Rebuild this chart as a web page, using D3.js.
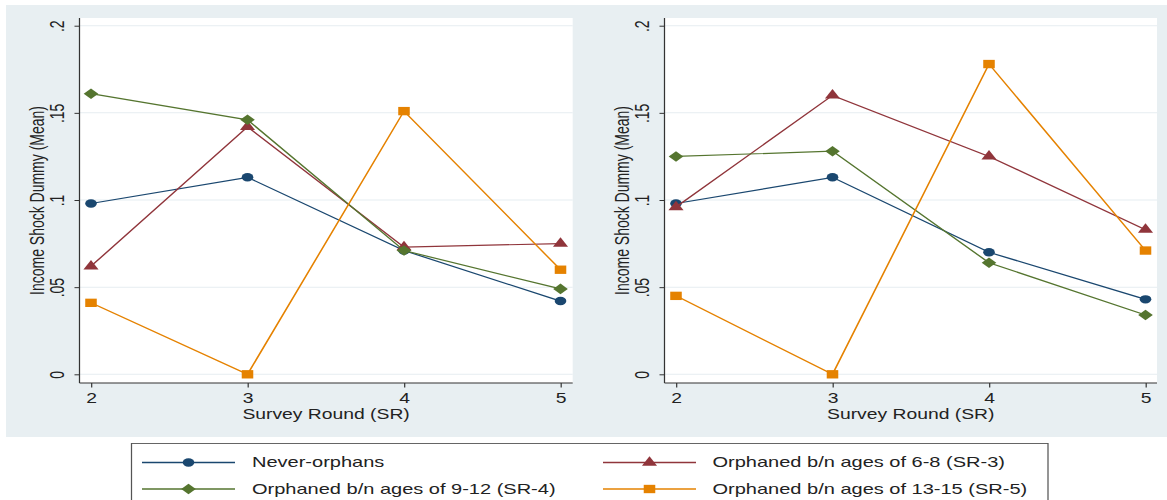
<!DOCTYPE html>
<html>
<head>
<meta charset="utf-8">
<script src="https://cdn.jsdelivr.net/npm/d3@7"></script>
<style>
    body { margin: 0; background: #fff; }
    text { font-family: "Liberation Sans", Arial, sans-serif; fill: #222; }
</style>
</head>
<body>
<div class="chart"></div>
<script>

// survey rounds on the x axis
const rounds = [2, 3, 4, 5];

// y ticks and their Stata style labels
const yTicks = [0, 0.05, 0.1, 0.15, 0.2];
const yTickLabels = ["0", ".05", ".1", ".15", ".2"];

const seriesNames = [
    "Never-orphans",
    "Orphaned b/n ages of 6-8 (SR-3)",
    "Orphaned b/n ages of 9-12 (SR-4)",
    "Orphaned b/n ages of 13-15 (SR-5)"
];

// left panel means
const leftNever   = [0.098, 0.113, 0.071, 0.042];
const leftAge68   = [0.062, 0.142, 0.073, 0.075];
const leftAge912  = [0.161, 0.146, 0.071, 0.049];
const leftAge1315 = [0.041, 0.000, 0.151, 0.060];

// right panel means
const rightNever   = [0.098, 0.113, 0.070, 0.043];
const rightAge68   = [0.096, 0.160, 0.125, 0.083];
const rightAge912  = [0.125, 0.128, 0.064, 0.034];
const rightAge1315 = [0.045, 0.000, 0.178, 0.071];

const colors = ["#1a476f", "#90353b", "#55752f", "#e58200"];
const symbols = [
    {type: d3.symbolCircle, size: 56, rotate: 0},
    {type: d3.symbolTriangle, size: 52, rotate: 0},
    {type: d3.symbolSquare, size: 56, rotate: 45},
    {type: d3.symbolSquare, size: 70, rotate: 0}
];

// the original picture is stretched sideways, so draw in a narrower frame and scale it
const SX = 1.38;
const sx = v => v / SX;

const svg = d3.select(".chart").append("svg")
    .attr("width", 1167)
    .attr("height", 500);

const root = svg.append("g")
    .attr("transform", `scale(${SX},1)`);

// grey graph region
root.append("rect")
    .attr("x", sx(6))
    .attr("y", 5)
    .attr("width", sx(1161))
    .attr("height", 432)
    .attr("fill", "#e8eff2");

const panels = [
    {left: 79.5, right: 572.7, x2: 91, x5: 560.5,
        series: [leftNever, leftAge68, leftAge912, leftAge1315]},
    {left: 664.5, right: 1157, x2: 676, x5: 1145.5,
        series: [rightNever, rightAge68, rightAge912, rightAge1315]}
];

const plotTop = 18, plotBottom = 383;

panels.forEach(drawPanel);
drawLegend();

function marker(sel, i) {
    sel.append("path")
        .attr("d", d3.symbol().type(symbols[i].type).size(symbols[i].size))
        .attr("fill", colors[i])
        .attr("transform", `rotate(${symbols[i].rotate})`);
}

function drawPanel(p) {
    const x = d3.scaleLinear().domain([2, 5]).range([sx(p.x2), sx(p.x5)]);
    const y = d3.scaleLinear().domain([0, 0.2]).range([374.3, 25.7]);

    const g = root.append("g");

    // white plot region
    g.append("rect")
        .attr("x", sx(p.left))
        .attr("y", plotTop)
        .attr("width", sx(p.right - p.left))
        .attr("height", plotBottom - plotTop)
        .attr("fill", "#fff");

    // grid lines
    g.append("g")
        .selectAll("line")
        .data(yTicks)
        .join("line")
        .attr("x1", sx(p.left))
        .attr("x2", sx(p.right))
        .attr("y1", d => y(d))
        .attr("y2", d => y(d))
        .attr("stroke", "#e6edf1")
        .attr("stroke-width", 1);

    // y axis with rotated labels
    const yAxis = g.append("g")
        .attr("transform", `translate(${sx(p.left)},0)`)
        .call(d3.axisLeft(y).tickValues(yTicks).tickFormat((d, i) => yTickLabels[i]).tickSize(sx(5)));
    yAxis.select(".domain").remove();
    yAxis.selectAll("line").attr("stroke", "#333");
    yAxis.selectAll("text")
        .attr("transform", "rotate(-90)")
        .attr("x", 0)
        .attr("y", -sx(16))
        .attr("dy", 0)
        .attr("text-anchor", "middle")
        .style("font-size", "14px");

    // x axis
    const xAxis = g.append("g")
        .attr("transform", `translate(0,${plotBottom})`)
        .call(d3.axisBottom(x).tickValues(rounds).tickFormat(d3.format("d")).tickSize(4.5));
    xAxis.select(".domain").remove();
    xAxis.selectAll("line").attr("stroke", "#333").attr("stroke-width", sx(1.2));
    xAxis.selectAll("text")
        .attr("y", 20.5)
        .attr("dy", 0)
        .style("font-size", "14px");
    yAxis.attr("font-family", null).attr("font-size", null);
    xAxis.attr("font-family", null).attr("font-size", null);

    // axis lines
    g.append("line")
        .attr("x1", sx(p.left)).attr("x2", sx(p.left))
        .attr("y1", plotTop).attr("y2", plotBottom)
        .attr("stroke", "#333").attr("stroke-width", 0.9);
    g.append("line")
        .attr("x1", sx(p.left)).attr("x2", sx(p.right))
        .attr("y1", plotBottom).attr("y2", plotBottom)
        .attr("stroke", "#333").attr("stroke-width", 1.1);

    // axis titles
    g.append("text")
        .attr("x", sx((p.left + p.right) / 2))
        .attr("y", 419.5)
        .attr("text-anchor", "middle")
        .style("font-size", "14px")
        .text("Survey Round (SR)");

    g.append("text")
        .attr("transform", `translate(${sx(p.left - 36)},${(plotTop + plotBottom) / 2}) rotate(-90)`)
        .attr("text-anchor", "middle")
        .style("font-size", "14px")
        .text("Income Shock Dummy (Mean)");

    // lines and markers, one series after another
    const line = d3.line()
        .x((d, i) => x(rounds[i]))
        .y(d => y(d));

    p.series.forEach((values, s) => {
        g.append("path")
            .datum(values)
            .attr("d", line)
            .attr("fill", "none")
            .attr("stroke", colors[s])
            .attr("stroke-width", 1.2);

        g.append("g")
            .selectAll("g")
            .data(values)
            .join("g")
            .attr("transform", (d, i) => `translate(${x(rounds[i])},${y(d)})`)
            .each(function() { marker(d3.select(this), s); });
    });
}

function drawLegend() {
    const lg = root.append("g");

    lg.append("rect")
        .attr("x", sx(131.5))
        .attr("y", 443.5)
        .attr("width", sx(1048 - 131.5))
        .attr("height", 70)
        .attr("fill", "#fff")
        .attr("stroke", "#555")
        .attr("stroke-width", 0.9);

    const cols = [{x1: 142, x2: 235, text: 252}, {x1: 603, x2: 696, text: 712.5}];
    const rows = [462.5, 489];

    seriesNames.forEach((name, i) => {
        const c = cols[i % 2];
        const ry = rows[Math.floor(i / 2)];

        lg.append("line")
            .attr("x1", sx(c.x1)).attr("x2", sx(c.x2))
            .attr("y1", ry).attr("y2", ry)
            .attr("stroke", colors[i])
            .attr("stroke-width", 1.3);

        const m = lg.append("g")
            .attr("transform", `translate(${sx((c.x1 + c.x2) / 2)},${ry})`);
        marker(m, i);

        lg.append("text")
            .attr("x", sx(c.text))
            .attr("y", ry + 5)
            .style("font-size", "14.5px")
            .text(name);
    });
}

</script>
</body>
</html>
